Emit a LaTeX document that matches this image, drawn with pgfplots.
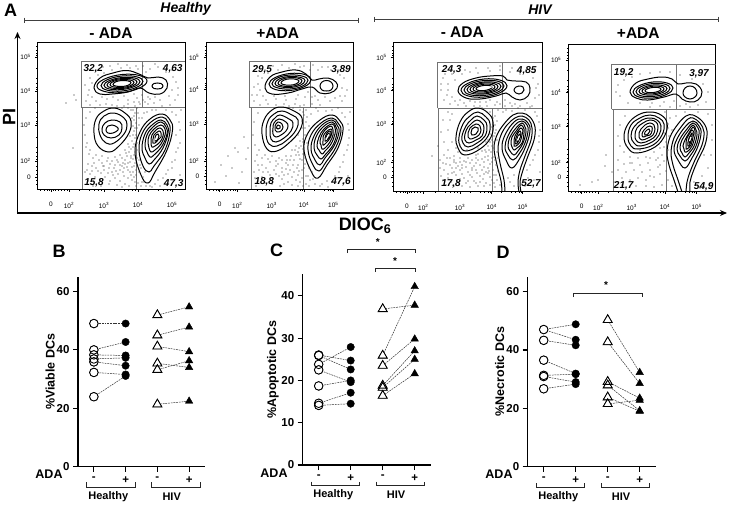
\documentclass[border=0pt]{standalone}
\usepackage{fontspec}
\setmainfont{Liberation Sans}
\usepackage{pgfplots}
\pgfplotsset{compat=1.18}
\usetikzlibrary{arrows.meta}

\newcommand{\fs}[1]{\fontsize{#1}{#1}\selectfont}
\newcommand{\tenp}[1]{10\textsuperscript{#1}}
\newcommand{\ct}[1]{\addplot[ct] coordinates {#1};}
\newcommand{\co}[1]{\addplot[co] coordinates {#1};}
\newcommand{\pr}[2]{\addplot[pairline] coordinates {(#1)(#2)};}

\tikzset{
  pct/.style={font=\fs{10}\bfseries\itshape, inner sep=0pt},
  head/.style={font=\fs{15.5}\bfseries, inner sep=0pt},
  title/.style={font=\fs{14}\bfseries\itshape, inner sep=0pt},
  panel/.style={font=\fs{18}\bfseries, inner sep=0pt},
  grp/.style={font=\fs{11}\bfseries, inner sep=0pt},
  brk/.style={line width=0.9pt, black!85},
}
\pgfplotsset{
  ct/.style={black, line width=1pt, smooth cycle, tension=0.7, no markers},
  co/.style={black, line width=1pt, smooth, tension=0.6, no markers},
  hot/.style={white, line width=1.3pt, sharp plot, no markers},
  gate/.style={black!55, line width=0.6pt, sharp plot, no markers},
  dots/.style={only marks, mark=*, mark size=0.3pt, black!70, mark options={draw=none, fill=black!70}},
  flow/.style={
    scale only axis, y dir=reverse, axis line style={line width=0.8pt},
    xtick pos=lower, ytick pos=left, xticklabel pos=lower,
    xticklabels={0,\tenp{2},\tenp{3},\tenp{4},\tenp{5}},
    yticklabels={\tenp{5},\tenp{4},\tenp{3},\tenp{2},0},
    tick label style={font=\fs{6.5}},
    x tick label style={yshift=-7pt},
    y tick label style={xshift=-1pt},
    major tick length=2.5pt, minor tick length=1.5pt,
    tick style={black, line width=0.6pt},
    tick align=outside,
  },
  dc/.style={
    scale only axis, axis lines*=left, xmin=0.5, xmax=4.5, ymin=0,
    axis line style={line width=1.3pt, -},
    xtick={1,2,3,4}, xticklabels={-,+,-,+},
    tick align=outside, major tick length=5pt,
    tick style={black, line width=1.1pt},
    tick label style={font=\fs{11.5}\bfseries},
    /pgf/number format/assume math mode=true,
    x tick label style={yshift=-1.5pt},
    ylabel style={font=\fs{12.5}\bfseries},
    clip=false,
  },
  pairline/.style={black!80, line width=0.5pt, dash pattern=on 1.8pt off 0.9pt, no markers},
  wc/.style={only marks, mark=*, mark size=4.3pt, mark options={draw=none, fill=white}},
  oc/.style={only marks, mark=o, mark size=4.3pt, black, mark options={line width=0.85pt}},
  fc/.style={only marks, mark=*, mark size=3.7pt, black},
  wt/.style={only marks, mark=triangle*, mark size=5.2pt, mark options={draw=none, fill=white}},
  ot/.style={only marks, mark=triangle, mark size=5.2pt, black, mark options={line width=0.85pt}},
  ft/.style={only marks, mark=triangle*, mark size=4.3pt, black},
}

\begin{document}
\begin{tikzpicture}[x=1pt,y=1pt]
\path[use as bounding box] (0,0) rectangle (730,-506);

% ---------- flow panels, axis units are the pixel grid of the figure
\begin{axis}[flow, at={(37.7pt,-189.3pt)}, anchor=south west, width=147.3pt, height=146.6pt,
  xmin=37.7, xmax=185, ymin=42.7, ymax=189.3,
  xtick={51,69,104,138,172}, ytick={57,91,125,161,177},
  minor xtick={40,44,47,49,53,55,58,61,64,67,79,89,94,98,101,114,124,128,132,135,148,158,163,167,170},
  minor ytick={46,50,53,55,68,78,83,87,89,102,112,117,121,123,137,147,152,156,159,166,170,174,180,184}]
\addplot[dots] coordinates {(85,66)(90,78)(96,71)(103,67)(110,66)(118,64)(130,68)(136,66)(143,66)(150,69)(158,67)(166,72)(173,77)(172,90)(169,96)(160,100)(150,99)(145,102)(137,98)(128,100)(118,100)(107,99)(96,101)(88,95)(85,85)(128,104)(135,106)(140,104)(148,104)(124,106)(131,110)(135,113)(134,120)(137,108)(133,126)(130,136)(135,138)(133,147)(128,144)(125,150)(120,155)(115,157)(108,158)(102,156)(96,155)(90,150)(87,143)(85,135)(84,125)(90,112)(86,118)(102,163)(110,164)(118,162)(125,160)(131,158)(127,167)(120,170)(112,172)(104,170)(96,168)(88,164)(85,172)(95,177)(105,177)(115,178)(124,176)(130,172)(134,166)(136,160)(132,180)(125,184)(117,185)(109,184)(136,175)(138,183)(133,172)(135,152)(129,152)(122,166)(140,165)(143,177)(139,172)(155,184)(163,178)(168,170)(175,160)(178,148)(176,135)(179,122)(172,112)(166,110)(152,110)(144,113)(139,118)(146,186)(160,186)(172,168)(180,175)(181,110)(178,95)(76,100)(74,95)(73,148)(66,103)(137,143)(134,131)(128,163)(137,128)(123,172)(114,168)};
\addplot[dots] coordinates {(126,153)(131,149)(134,155)(137,150)(136,135)(132,141)(129,147)(122,158)(117,160)(112,161)(107,161)(99,160)(93,158)(89,154)(86,147)(104,166)(109,168)(115,165)(120,165)(125,164)(130,162)(133,159)(135,163)(132,167)(128,170)(124,168)(118,174)(113,175)(108,173)(101,173)(98,171)(92,171)(90,174)(100,180)(110,181)(120,181)(128,178)(134,177)(131,175)(136,170)(135,182)(129,186)(122,187)(139,160)(141,168)(137,165)(142,182)(145,172)(150,186)(141,186)(136,186)(134,116)(136,123)(138,113)(139,125)(135,128)(132,118)(133,110)(128,108)(122,108)(117,106)(112,105)(106,104)(100,105)(95,108)(90,105)(86,101)(139,102)(134,102)(143,100)(154,103)(162,106)(170,105)(175,100)(178,88)(176,82)(172,70)(165,66)(155,64)(146,72)(138,69)(127,65)(121,68)(112,70)(104,73)(98,75)(92,83)(89,90)(92,97)(102,97)(113,97)(124,96)(134,94)(142,95)(148,97)(155,97)(142,118)(147,112)(156,110)(176,115)(180,130)(180,143)(176,152)(172,162)(166,174)(158,180)(152,187)(144,182)(127,156)(123,163)(116,171)(103,166)(94,163)(92,166)(87,170)(88,181)(93,186)(101,186)(131,156)(134,144)(133,135)(137,158)};
\addplot[gate] coordinates {(81.3,107.7)(81.3,61.7)(185,61.7)};
\addplot[gate] coordinates {(81.3,107.7)(185,107.7)};
\addplot[gate] coordinates {(142.7,61.7)(142.7,107.7)};
\addplot[gate] coordinates {(82.3,107.7)(82.3,189.3)};
\addplot[gate] coordinates {(136.7,107.7)(136.7,189.3)};
\ct{(94,88)(100,78)(113,73)(127,70.5)(139,74)(148,78)(158,77)(166,80)(167,88)(160,94)(149,93)(140,88)(128,92)(112,94)(100,94)}
\ct{(97,86)(104.5,79)(122,74.5)(139.5,75.5)(147,81)(139.5,88)(122,92.5)(104.5,91.5)}
\ct{(101,85.6)(107.3,79.7)(122,76)(136.7,76.8)(143,81.4)(136.7,87.3)(122,91)(107.3,90.2)}
\ct{(104,85.3)(109.4,80.6)(122,77.5)(134.6,78)(140,81.7)(134.6,86.4)(122,89.5)(109.4,89)}
\ct{(107,85)(111.5,81)(122,78.5)(132.5,79)(137,82)(132.5,86)(122,88.5)(111.5,88)}
\ct{(110,84.7)(113.6,81.3)(122,79.5)(130.4,80.1)(134,82.3)(130.4,85.7)(122,87.5)(113.6,86.9)}
\ct{(113,84.4)(115.7,81.8)(122,80.5)(128.3,81)(131,82.6)(128.3,85.2)(122,86.5)(115.7,86)}
\addplot[hot] coordinates {(117,84)(128,82.5)};
\ct{(152,86)(154,83.5)(157.5,83)(161,83.5)(163,86)(161,88.5)(157.5,89)(154,88.5)}
\ct{(114.5,108)(125,113)(131,121)(129,133)(119,146)(109,152)(98,146)(94,133)(96,119)(104,111)}
\ct{(114,113)(124,118)(127,125)(124,134)(114,143)(106,143)(100,135)(99,124)(104,116)}
\ct{(112,120)(120,122)(122,128)(119,135)(111,138)(104,135)(102,129)(105,123)}
\ct{(112,125)(117,127)(118,130)(113,133)(108,133)(106,130)(108,126)}
\ct{(162,114)(170,120)(172.5,130)(167,150)(155,172)(148,183)(141,175)(135,152)(140,132)(150,119)}
\ct{(162,117)(168,122)(170,131)(165,150)(154,166)(149,172)(143,166)(139,150)(142,134)(151,122)}
\ct{(161,120)(167,125)(168,133)(163,148)(154,160)(149,164)(145,158)(142,148)(145,134)(152,125)}
\ct{(161,122)(166,127)(167,134)(162,146)(154,155)(150,157)(147,152)(145,146)(147,135)(153,127)}
\ct{(161,125)(165,129)(165,135)(161,144)(155,150)(151,152)(149,148)(148,143)(149,136)(154,129)}
\ct{(160,128)(163,131)(163,136)(160,142)(155,146)(152,147)(151,143)(151,139)(152,135)(156,130)}
\ct{(159,131)(161,133)(161,137)(158,140)(155,143)(153,143)(153,139)(154,135)}
\ct{(158,134)(159,136)(158,139)(156,141)(155,141)(155,138)(156,135)}
\addplot[hot] coordinates {(155.5,140)(157,136.5)};
\end{axis}

\begin{axis}[flow, at={(206.3pt,-189.3pt)}, anchor=south west, width=147pt, height=146.6pt,
  xmin=206.3, xmax=353.3, ymin=42.7, ymax=189.3,
  xtick={219.7,237.3,271.7,304,333.3}, ytick={57.3,89.3,124,161,176},
  minor xtick={209,213,216,218,222,224,227,230,233,235,247,257,262,266,269,282,292,296,300,302,314,324,328,330,332},
  minor ytick={46,50,53,55,68,78,83,85,87,102,112,117,120,122,137,147,152,156,159,166,170,173,180,184}]
\addplot[dots] coordinates {(254,66)(258,76)(265,70)(273,66)(282,65)(295,64)(304,66)(313,65)(322,67)(331,70)(340,75)(342,88)(340,96)(330,101)(318,100)(312,97)(305,97)(296,99)(286,100)(276,99)(266,100)(257,95)(254,87)(295,104)(304,105)(312,104)(320,105)(289,106)(300,110)(304,115)(306,122)(302,128)(305,135)(300,141)(296,146)(292,150)(286,156)(279,158)(272,156)(265,155)(259,150)(255,145)(253,135)(254,122)(258,113)(270,162)(278,164)(286,163)(294,160)(299,155)(303,149)(302,160)(297,168)(290,170)(282,172)(274,170)(266,168)(258,165)(254,172)(262,177)(272,178)(282,179)(292,177)(298,175)(302,170)(305,164)(306,176)(300,182)(292,185)(284,184)(306,184)(310,180)(312,172)(322,184)(332,182)(339,172)(343,162)(347,150)(349,138)(348,124)(342,113)(332,110)(318,111)(311,114)(306,110)(328,187)(344,183)(348,176)(350,112)(345,96)(235,148)(228,156)(221,165)(238,152)(246,159)(232,168)(242,172)(248,148)(226,176)(239,183)(215,182)(244,137)(303,142)(298,135)(288,165)(276,174)};
\addplot[dots] coordinates {(298,152)(301,146)(303,154)(300,159)(296,155)(291,156)(287,160)(282,160)(276,161)(268,159)(262,158)(257,155)(255,161)(262,165)(268,172)(276,166)(282,168)(288,174)(294,172)(298,165)(304,168)(307,162)(305,155)(309,168)(308,176)(302,178)(296,180)(288,182)(280,186)(272,184)(265,183)(258,181)(255,178)(256,186)(303,186)(298,186)(309,186)(315,184)(305,128)(302,121)(307,117)(303,112)(300,106)(293,108)(284,104)(276,105)(268,104)(260,105)(254,101)(252,95)(263,96)(274,96)(285,96)(298,95)(308,92)(315,96)(325,97)(335,98)(342,101)(347,90)(344,78)(338,70)(328,67)(318,70)(310,70)(300,67)(289,68)(278,70)(268,73)(262,78)(258,84)(260,90)(316,108)(326,111)(338,108)(345,117)(349,130)(348,145)(344,155)(340,167)(335,176)(327,181)(320,186)(313,179)(299,171)(293,165)(286,169)(279,176)(270,175)(263,172)(259,170)(295,150)(290,160)(284,175)(303,139)(304,148)(299,148)(307,135)(309,126)(307,143)(305,158)};
\addplot[gate] coordinates {(249.3,107.7)(249.3,61.7)(353.3,61.7)};
\addplot[gate] coordinates {(249.3,107.7)(353.3,107.7)};
\addplot[gate] coordinates {(310.3,61.7)(310.3,107.7)};
\addplot[gate] coordinates {(251.3,107.7)(251.3,189.3)};
\addplot[gate] coordinates {(303.3,107.7)(303.3,189.3)};
\ct{(265,88)(270,77)(282,72)(296,70)(306,74)(312,80)(319,79)(328,78)(336,82)(337,88)(330,93)(320,93)(312,87)(302,89)(288,93)(272,94)}
\ct{(269,84)(275.3,77.5)(290,73.5)(304.7,74.5)(311,80)(304.7,86.5)(290,90.5)(275.3,89.5)}
\ct{(272,83.8)(277.4,78)(290,75)(302.6,76.2)(308,80.2)(302.6,86)(290,89)(277.4,87.8)}
\ct{(275,83.5)(279.5,78.8)(290,76.5)(300.5,77.4)(305,80.5)(300.5,85.2)(290,87.5)(279.5,86.6)}
\ct{(278,83.2)(281.6,79.5)(290,77.5)(298.4,78.3)(302,80.8)(298.4,84.5)(290,86.5)(281.6,85.7)}
\ct{(281,82.9)(283.7,80.2)(290,78.8)(296.3,79.4)(299,81.1)(296.3,83.8)(290,85.2)(283.7,84.6)}
\addplot[hot] coordinates {(285,82.5)(296,81)};
\ct{(320,86)(322,82)(326.5,80.5)(331,82)(333,86)(331,90)(326.5,91)(322,90)}
\ct{(282,107)(294,111)(302,118)(300,130)(290,142)(277,151)(267,149)(262,134)(264,120)(272,110)}
\ct{(282,111)(292,115)(298,120)(296,130)(287,140)(277,146)(269,144)(266,133)(268,121)(274,114)}
\ct{(280,115)(289,119)(293,123)(291,131)(284,138)(276,142)(271,139)(270,131)(271,123)(275,118)}
\ct{(279,119)(286,122)(288,126)(286,131)(281,135)(276,137)(273,134)(273,128)(274,123)}
\ct{(278,122)(282,124)(283,127)(281,131)(277,132)(275,130)(275,126)}
\ct{(278,125)(280,126)(280,128)(278,129)(276.5,128)(277,126)}
\ct{(332,115)(340,121)(343,130)(338,148)(327,165)(318,178)(311,171)(304,150)(308,133)(320,120)}
\ct{(332,118)(338,123)(341,131)(336,147)(326,162)(319,171)(313,165)(308,150)(311,135)(321,123)}
\ct{(332,120)(337,125)(339,132)(334,146)(325,158)(320,165)(315,160)(311,149)(314,136)(322,125)}
\ct{(332,122)(336,127)(337,133)(333,145)(325,155)(321,159)(317,155)(314,148)(316,137)(323,127)}
\ct{(332,124)(335,128)(335,134)(331,144)(325,151)(322,154)(319,150)(317,146)(319,137)(324,129)}
\ct{(331,126)(333,130)(333,135)(330,142)(325,148)(322,149)(321,145)(320,143)(321,137)(325,130)}
\ct{(331,129)(332,132)(331,136)(328,141)(325,144)(323,145)(323,141)(323,137)(326,132)}
\ct{(330,131)(331,134)(329,138)(326,141)(325,141)(325,138)(327,133)}
\ct{(329,133)(329,136)(327,139)(326,138)(327,135)}
\addplot[hot] coordinates {(326,139.5)(329,134.5)};
\end{axis}

\begin{axis}[flow, at={(393.7pt,-191.3pt)}, anchor=south west, width=148.6pt, height=148.6pt,
  xmin=393.7, xmax=542.3, ymin=42.7, ymax=191.3,
  xtick={407,423.3,460,491.7,522.7}, ytick={57.3,90.7,124,162.3,177.7},
  minor xtick={396,400,403,405,409,411,414,417,420,435,445,450,454,457,470,480,484,488,490,501,511,515,519,521},
  minor ytick={46,50,53,55,68,78,84,87,89,102,112,117,121,123,137,147,152,156,160,167,171,175,182,186}]
\addplot[dots] coordinates {(443,78)(448,84)(455,80)(462,74)(470,72)(478,73)(490,71)(500,70)(510,72)(520,74)(533,78)(536,88)(535,98)(527,103)(515,104)(505,100)(497,102)(486,102)(475,102)(464,103)(455,101)(447,95)(441,90)(495,105)(487,106)(480,106)(505,106)(512,106)(498,110)(495,116)(497,121)(492,127)(495,133)(492,140)(488,146)(482,151)(476,155)(468,158)(460,158)(454,156)(448,150)(444,142)(441,132)(443,120)(448,112)(440,160)(446,164)(454,162)(462,165)(470,163)(478,160)(485,157)(491,152)(494,157)(490,164)(484,167)(476,170)(468,172)(460,170)(452,168)(444,170)(441,176)(448,178)(456,175)(464,178)(472,177)(480,176)(488,173)(493,170)(496,175)(492,180)(486,183)(478,186)(470,187)(462,186)(495,187)(500,185)(483,179)(474,181)(466,183)(488,156)(480,165)(472,168)(464,161)(456,168)(438,146)(432,156)(460,145)(486,142)(490,134)(495,125)(510,182)(514,175)(527,170)(533,160)(538,150)(539,136)(539,122)(535,112)(525,110)(512,111)(503,112)(525,186)(534,180)(540,172)(458,152)(478,148)(484,162)(467,150)(476,163)(452,173)(444,155)(492,146)(486,172)(458,182)};
\addplot[dots] coordinates {(485,150)(489,150)(493,148)(488,160)(482,159)(476,158)(472,160)(466,162)(460,162)(454,160)(450,158)(447,158)(443,163)(450,165)(458,166)(466,167)(474,166)(482,170)(488,168)(492,162)(496,165)(494,175)(490,177)(484,174)(477,173)(470,175)(462,174)(454,172)(448,174)(443,180)(451,182)(460,179)(468,181)(476,183)(484,186)(490,185)(494,183)(497,180)(498,171)(495,160)(497,152)(494,142)(496,130)(493,118)(490,112)(482,108)(474,106)(466,106)(458,105)(450,104)(444,100)(441,84)(445,74)(452,74)(465,70)(476,68)(488,68)(500,66)(512,68)(526,70)(534,72)(538,84)(539,95)(532,106)(520,106)(510,103)(500,104)(490,100)(480,102)(470,101)(460,100)(452,97)(448,90)(506,110)(518,108)(530,107)(537,116)(540,130)(539,142)(535,155)(530,165)(528,178)(522,184)(514,186)(508,178)(488,140)(490,142)(486,152)(478,154)(470,154)(462,154)(456,148)(452,142)(448,130)(450,120)(452,114)(440,168)(446,185)(454,186)(494,136)(497,140)(492,158)(498,158)(480,182)(472,170)(462,168)(456,163)(489,171)};
\addplot[gate] coordinates {(437.7,108)(437.7,62.3)(542.3,62.3)};
\addplot[gate] coordinates {(437.7,108)(542.3,108)};
\addplot[gate] coordinates {(502.7,62.3)(502.7,108)};
\addplot[gate] coordinates {(438.3,108)(438.3,191.3)};
\addplot[gate] coordinates {(492.7,108)(492.7,191.3)};
\ct{(458,91)(463,83)(476,78)(490,76)(503,76)(507,80)(516,81)(526,82)(530,88)(528,96)(520,100)(512,97)(506,93)(496,96)(480,99)(466,98)}
\ct{(461,90.3)(467.9,83.3)(484,79)(500.1,80.1)(507,85.7)(500.1,92.7)(484,97)(467.9,95.9)}
\ct{(464,90)(470,84.1)(484,80.5)(498,81.3)(504,86)(498,91.9)(484,95.5)(470,94.7)}
\ct{(467,89.7)(472.1,85)(484,82)(495.9,82.6)(501,86.3)(495.9,91)(484,94)(472.1,93.4)}
\ct{(470,89.4)(474.2,85.5)(484,83)(493.8,83.5)(498,86.6)(493.8,90.5)(484,93)(474.2,92.5)}
\ct{(473,89.1)(476.3,86.1)(484,84.2)(491.7,84.5)(495,86.9)(491.7,89.9)(484,91.8)(476.3,91.5)}
\ct{(476,88.8)(478.4,86.8)(484,85.4)(489.6,85.6)(492,87.2)(489.6,89.2)(484,90.6)(478.4,90.4)}
\addplot[hot] coordinates {(481,88)(492,87)};
\ct{(514,90)(516,87)(519,86)(523,87)(524,90)(522,93)(519,94)(516,93)}
\ct{(478,108)(488,113)(493,122)(491,137)(480,149)(465,155)(458,148)(456,137)(460,122)(468,112)}
\ct{(478,112)(486,117)(490,124)(488,136)(478,146)(466,151)(460,146)(459,137)(463,124)(470,116)}
\ct{(477,116)(484,120)(487,126)(485,136)(477,143)(468,147)(463,143)(462,136)(466,126)(471,120)}
\ct{(477,120)(482,123)(484,128)(482,136)(476,140)(469,143)(465,140)(465,134)(468,127)(472,123)}
\ct{(476,124)(480,126)(481,130)(479,135)(474,138)(470,139)(468,137)(468,133)(470,128)}
\ct{(475,127)(478,128)(478,131)(476,134)(472,135)(471,133)(472,129)}
\co{(502,192)(501,181)(497,165)(494,148)(497,135)(504,124)(513,115)(522,113)(530,117)(535,127)(534,140)(528,156)(523,170)(520,182)(521,192)}
\co{(505,192)(504,180)(500,163)(498,148)(501,135)(507,125)(515,118)(522,116)(529,120)(532,128)(531,140)(525,156)(520,170)(518,182)(519,192)}
\ct{(522,119)(528,123)(530,130)(527,143)(520,158)(512,168)(506,160)(502,148)(505,135)(514,122)}
\ct{(522,121)(527,125)(528,131)(525,143)(519,154)(513,160)(508,155)(505,147)(508,136)(515,125)}
\ct{(522,123)(525,127)(526,132)(523,143)(518,151)(514,155)(510,151)(508,146)(510,137)(516,128)}
\ct{(521,125)(524,129)(524,133)(522,143)(517,148)(514,150)(512,147)(511,144)(512,137)(517,130)}
\ct{(521,128)(523,131)(522,135)(520,142)(516,146)(514,146)(514,143)(514,140)(515,136)(518,131)}
\ct{(520,131)(521,134)(520,138)(518,142)(516,144)(515,142)(516,138)(518,133)}
\ct{(520,134)(520,137)(518,141)(517,142)(517,139)(518,136)}
\addplot[hot] coordinates {(517.5,140.5)(519.5,136)};
\end{axis}

\begin{axis}[flow, at={(568.3pt,-191.3pt)}, anchor=south west, width=147.4pt, height=147pt,
  xmin=568.3, xmax=715.7, ymin=44.3, ymax=191.3,
  xtick={581.7,598.3,631.7,665,696.7}, ytick={60,92.7,126.7,162.7,177.7},
  minor xtick={571,575,578,580,584,586,589,592,595,608,618,623,627,630,642,652,656,660,663,675,685,689,692,694},
  minor ytick={48,52,55,58,70,80,86,89,91,104,114,119,123,125,139,149,154,158,161,167,171,175,182,186}]
\addplot[dots] coordinates {(618,85)(624,80)(632,77)(640,74)(650,73)(660,72)(670,72)(680,75)(692,79)(703,84)(708,92)(706,102)(698,105)(686,104)(674,101)(664,102)(652,103)(640,103)(628,103)(620,96)(616,92)(660,106)(670,107)(680,106)(690,107)(650,107)(665,112)(670,118)(668,124)(672,130)(669,136)(666,142)(660,148)(654,152)(646,157)(638,158)(630,157)(624,152)(620,146)(618,136)(620,125)(625,116)(618,160)(624,164)(632,163)(640,165)(648,163)(656,160)(662,155)(664,161)(658,167)(650,170)(642,172)(634,170)(626,172)(618,170)(622,178)(630,180)(638,178)(646,180)(654,177)(660,174)(666,171)(668,180)(662,185)(654,187)(646,186)(636,186)(672,186)(668,150)(664,147)(658,158)(650,176)(694,182)(702,176)(708,168)(711,155)(712,140)(712,125)(708,114)(698,112)(685,112)(676,116)(605,166)(598,180)(592,182)(580,185)(606,155)(612,172)(640,150)(630,163)(650,158)(660,165)(622,185)(614,182)(700,188)(710,184)(704,155)(626,145)(668,128)(664,133)};
\addplot[gate] coordinates {(611.7,109.3)(611.7,64.3)(715.7,64.3)};
\addplot[gate] coordinates {(611.7,109.3)(715.7,109.3)};
\addplot[gate] coordinates {(676.3,64.3)(676.3,109.3)};
\addplot[gate] coordinates {(613.3,109.3)(613.3,191.3)};
\addplot[gate] coordinates {(666.7,109.3)(666.7,191.3)};
\ct{(630,92)(636,83)(648,79)(662,77)(672,79)(678,84)(686,83)(696,84)(702,92)(698,100)(690,102)(682,99)(676,94)(664,97)(648,100)(636,98)}
\ct{(633,92)(639,85.8)(653,82)(667,83)(673,88)(667,94.2)(653,98)(639,97)}
\ct{(636,91.7)(641.1,86.6)(653,83.5)(664.9,84.2)(670,88.3)(664.9,93.4)(653,96.5)(641.1,95.8)}
\ct{(639,91.4)(643.2,87.5)(653,85)(662.8,85.5)(667,88.6)(662.8,92.5)(653,95)(643.2,94.5)}
\ct{(642,91.1)(645.3,88.1)(653,86.2)(660.7,86.5)(664,88.9)(660.7,91.9)(653,93.8)(645.3,93.5)}
\ct{(645,90.8)(647.4,88.8)(653,87.4)(658.6,87.6)(661,89.2)(658.6,91.2)(653,92.6)(647.4,92.4)}
\addplot[hot] coordinates {(649,90.5)(658,89)};
\ct{(683,93)(685,88)(690,86)(695,88)(697,93)(695,97)(690,99)(685,97)}
\ct{(650,112)(661,115)(667,123)(665,135)(655,147)(637,153)(628,148)(624,137)(628,124)(638,115)}
\ct{(650,115)(659,118)(664,124)(662,135)(653,145)(638,149)(631,146)(628,137)(631,125)(640,118)}
\ct{(650,118)(657,120)(661,126)(659,135)(652,142)(640,146)(634,143)(631,136)(634,127)(642,120)}
\ct{(650,120)(656,122)(658,127)(656,135)(650,140)(641,143)(636,140)(635,135)(637,128)(643,123)}
\ct{(650,123)(654,125)(655,129)(653,135)(648,138)(642,140)(639,137)(639,133)(641,129)(645,125)}
\ct{(650,126)(652,127)(652,131)(650,135)(646,136)(643,137)(642,134)(644,130)(647,127)}
\ct{(649,129)(650,131)(648,134)(645,135)(645,132)(647,130)}
\co{(678,192)(674,180)(669,165)(667,152)(670,137)(678,124)(686,116)(693,115)(702,121)(707,131)(705,145)(698,160)(693,172)(690,182)(690,192)}
\co{(682,192)(678,180)(673,165)(671,152)(674,138)(681,127)(688,119)(693,118)(700,123)(704,132)(702,145)(695,160)(690,172)(687,182)(686,192)}
\ct{(693,121)(699,126)(701,133)(698,146)(692,158)(685,168)(678,160)(674,150)(677,139)(685,127)}
\ct{(693,123)(698,128)(699,134)(696,146)(690,156)(685,161)(680,156)(677,149)(680,139)(687,129)}
\ct{(693,125)(696,130)(697,135)(694,146)(689,153)(685,157)(682,153)(680,148)(682,140)(688,131)}
\ct{(693,127)(695,131)(695,136)(692,146)(688,151)(685,152)(684,149)(683,146)(685,140)(689,133)}
\ct{(692,130)(694,133)(693,137)(691,145)(687,149)(686,149)(686,146)(686,142)(687,138)(690,133)}
\ct{(692,133)(692,136)(691,141)(689,146)(688,146)(688,142)(689,138)}
\ct{(691,136)(691,139)(690,143)(689,143)(689,140)}
\addplot[hot] coordinates {(689.5,141)(691,137)};
\end{axis}

% ---------- panel A annotations
\node[panel] at (10.7,-10.5) {A};
\node[title] at (185.7,-9.3) {Healthy};
\node[title] at (540,-10) {HIV};
\draw[line width=1pt, black!75] (24,-17.5)--(24,-22.5) (24,-20)--(358,-20) (358,-17.5)--(358,-22.5);
\draw[line width=1pt, black!75] (374,-16.5)--(374,-21.5) (374,-19)--(718,-19) (718,-16.5)--(718,-21.5);
\node[head] at (111,-33.3) {- ADA};
\node[head] at (277.7,-32.7) {+ADA};
\node[head] at (462.3,-32.3) {- ADA};
\node[head] at (638.3,-33.3) {+ADA};
\node[pct] at (93.3,-69) {32,2};
\node[pct] at (172.7,-69) {4,63};
\node[pct] at (94,-182.3) {15,8};
\node[pct] at (173.7,-183.3) {47,3};
\node[pct] at (262.3,-69.3) {29,5};
\node[pct] at (341,-70) {3,89};
\node[pct] at (264.3,-182) {18,8};
\node[pct] at (341,-181.7) {47,6};
\node[pct] at (451.7,-70) {24,3};
\node[pct] at (526.7,-70.7) {4,85};
\node[pct] at (451,-184) {17,8};
\node[pct] at (531,-183.3) {52,7};
\node[pct] at (623.7,-72.7) {19,2};
\node[pct] at (699,-74) {3,97};
\node[pct] at (623.7,-186) {21,7};
\node[pct] at (703.7,-186.7) {54,9};
\draw[line width=1.4pt, -{Stealth[length=7pt,width=6pt]}] (17.5,-213) -- (17.5,-32);
\draw[line width=1.4pt, -{Stealth[length=7pt,width=6pt]}] (16.8,-213) -- (727,-213);
\node[font=\fs{18}\bfseries, rotate=90, inner sep=0pt] at (9.3,-116.7) {PI};
\node[font=\fs{18}\bfseries, inner sep=0pt] at (365,-226) {DIOC\textsubscript{6}};

% ---------- panel B
\begin{axis}[dc, at={(78pt,-466.7pt)}, anchor=south west, width=127pt, height=190pt,
  ymax=64.9, ytick={0,20,40,60}, ylabel={\%Viable DCs},
  ylabel style={at={(axis description cs:-0.22,0.5)}, anchor=center}]
\pr{1,48.9}{2,48.9}\pr{1,39.9}{2,42.6}\pr{1,38.2}{2,38}\pr{1,36.8}{2,37.2}\pr{1,35.8}{2,34.5}\pr{1,32.2}{2,31.5}\pr{1,23.9}{2,31}
\pr{3,51.8}{4,54.6}\pr{3,44.9}{4,47.7}\pr{3,41.1}{4,39.3}\pr{3,35.3}{4,33.9}\pr{3,33.1}{4,36.2}\pr{3,21.3}{4,22.4}
\addplot[wc] coordinates {(1,48.9)(1,39.9)(1,38.2)(1,36.8)(1,35.8)(1,32.2)(1,23.9)};
\addplot[oc] coordinates {(1,48.9)(1,39.9)(1,38.2)(1,36.8)(1,35.8)(1,32.2)(1,23.9)};
\addplot[fc] coordinates {(2,48.9)(2,42.6)(2,38)(2,37.2)(2,34.5)(2,31.5)(2,31)};
\addplot[wt] coordinates {(3,51.8)(3,44.9)(3,41.1)(3,35.3)(3,33.1)(3,21.3)};
\addplot[ot] coordinates {(3,51.8)(3,44.9)(3,41.1)(3,35.3)(3,33.1)(3,21.3)};
\addplot[ft] coordinates {(4,54.6)(4,47.7)(4,39.3)(4,33.9)(4,36.2)(4,22.4)};
\end{axis}
\node[panel] at (59,-251) {B};
\node[font=\fs{12.5}\bfseries, inner sep=0pt] at (49,-474) {ADA};
\draw[brk] (86.7,-482)--(86.7,-487)--(135,-487)--(135,-482);
\draw[brk] (151.7,-482)--(151.7,-487)--(200,-487)--(200,-482);
\node[grp] at (108.3,-496.7) {Healthy};
\node[grp] at (171.7,-496.7) {HIV};

% ---------- panel C
\begin{axis}[dc, at={(302.7pt,-465pt)}, anchor=south west, width=128pt, height=190.7pt,
  ymax=45.1, ytick={0,10,20,30,40}, ylabel={\%Apoptotic DCs},
  ylabel style={at={(axis description cs:-0.232,0.5)}, anchor=center}]
\pr{1,26}{2,24.7}\pr{1,25.9}{2,22.6}\pr{1,23.8}{2,27.9}\pr{1,22.5}{2,19.6}\pr{1,18.7}{2,20}\pr{1,14.6}{2,17.1}\pr{1,14.1}{2,14.5}
\pr{3,36.9}{4,37.8}\pr{3,25.9}{4,42.2}\pr{3,23.5}{4,29.8}\pr{3,18.8}{4,27}\pr{3,18.3}{4,25}\pr{3,16.4}{4,21.6}
\addplot[wc] coordinates {(1,26)(1,25.9)(1,23.8)(1,22.5)(1,18.7)(1,14.6)(1,14.1)};
\addplot[oc] coordinates {(1,26)(1,25.9)(1,23.8)(1,22.5)(1,18.7)(1,14.6)(1,14.1)};
\addplot[fc] coordinates {(2,24.7)(2,22.6)(2,27.9)(2,19.6)(2,20)(2,17.1)(2,14.5)};
\addplot[wt] coordinates {(3,36.9)(3,25.9)(3,23.5)(3,18.8)(3,18.3)(3,16.4)};
\addplot[ot] coordinates {(3,36.9)(3,25.9)(3,23.5)(3,18.8)(3,18.3)(3,16.4)};
\addplot[ft] coordinates {(4,37.8)(4,42.2)(4,29.8)(4,27)(4,25)(4,21.6)};
\end{axis}
\node[panel] at (276.7,-250) {C};
\node[font=\fs{12.5}\bfseries, inner sep=0pt] at (274,-472.7) {ADA};
\draw[brk] (311,-481.7)--(311,-485.7)--(359.3,-485.7)--(359.3,-481.7);
\draw[brk] (376,-481.7)--(376,-485.7)--(424.3,-485.7)--(424.3,-481.7);
\node[grp] at (333.3,-495) {Healthy};
\node[grp] at (396,-495) {HIV};
\draw[brk] (347.7,-253)--(347.7,-249.7)--(415,-249.7)--(415,-253);
\draw[brk] (375,-272)--(375,-268.3)--(415.7,-268.3)--(415.7,-272);
\node[font=\fs{10}\bfseries, inner sep=0pt] at (377.7,-242.5) {*};
\node[font=\fs{10}\bfseries, inner sep=0pt] at (395,-261.5) {*};

% ---------- panel D
\begin{axis}[dc, at={(527.7pt,-466.7pt)}, anchor=south west, width=128pt, height=190pt,
  ymax=65.1, ytick={0,20,40,60}, ylabel={\%Necrotic DCs},
  ylabel style={at={(axis description cs:-0.22,0.5)}, anchor=center}]
\pr{1,47}{2,48.8}\pr{1,47}{2,43.5}\pr{1,43.3}{2,41.6}\pr{1,36.5}{2,31.9}\pr{1,31.3}{2,31.7}\pr{1,30.9}{2,29}\pr{1,26.7}{2,28.3}
\pr{3,50.3}{4,32.3}\pr{3,42.7}{4,28.5}\pr{3,29.1}{4,23.5}\pr{3,27.9}{4,19.2}\pr{3,23.8}{4,19}\pr{3,21.5}{4,22.8}
\addplot[wc] coordinates {(1,47)(1,43.3)(1,36.5)(1,31.3)(1,30.9)(1,26.7)};
\addplot[oc] coordinates {(1,47)(1,43.3)(1,36.5)(1,31.3)(1,30.9)(1,26.7)};
\addplot[fc] coordinates {(2,48.8)(2,43.5)(2,41.6)(2,31.9)(2,31.7)(2,29)(2,28.3)};
\addplot[wt] coordinates {(3,50.3)(3,42.7)(3,29.1)(3,27.9)(3,23.8)(3,21.5)};
\addplot[ot] coordinates {(3,50.3)(3,42.7)(3,29.1)(3,27.9)(3,23.8)(3,21.5)};
\addplot[ft] coordinates {(4,32.3)(4,28.5)(4,23.5)(4,19.2)(4,19)(4,22.8)};
\end{axis}
\node[panel] at (503,-252) {D};
\node[font=\fs{12.5}\bfseries, inner sep=0pt] at (499,-474) {ADA};
\draw[brk] (536,-483)--(536,-487)--(584.3,-487)--(584.3,-483);
\draw[brk] (601,-483)--(601,-487)--(649.3,-487)--(649.3,-483);
\node[grp] at (558.3,-496.7) {Healthy};
\node[grp] at (621,-496.7) {HIV};
\draw[brk] (573.3,-297)--(573.3,-293)--(642.3,-293)--(642.3,-297);
\node[font=\fs{10}\bfseries, inner sep=0pt] at (606,-285.5) {*};
\end{tikzpicture}
\end{document}
